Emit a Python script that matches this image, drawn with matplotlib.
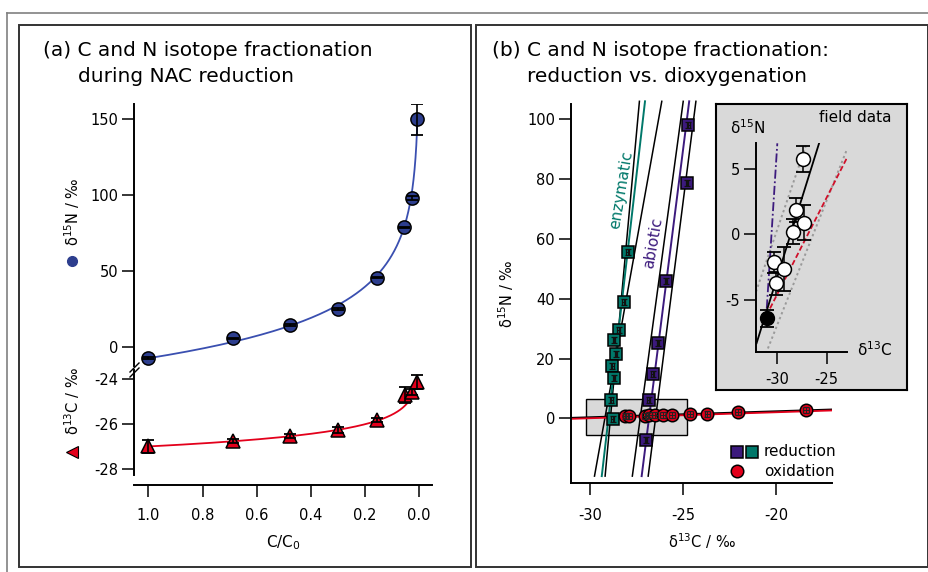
import numpy as np
import matplotlib
matplotlib.use("Agg")
import matplotlib.pyplot as plt
from matplotlib.lines import Line2D
from matplotlib.patches import Rectangle

W, H = 929, 572

# ---- panel (a): fraction remaining vs isotope signature
frac_n = [1.0, 0.686, 0.475, 0.299, 0.157, 0.054, 0.026, 0.006]
d15N_a = [-7.6, 5.5, 14.3, 24.8, 45.5, 78.6, 98.2, 149.8]
d15N_a_err = [0.5, 0.5, 0.5, 0.5, 0.5, 0.5, 1.2, 10.0]
frac_c = [1.0, 0.686, 0.475, 0.299, 0.157, 0.052, 0.025, 0.006]
d13C_a = [-27.0, -26.75, -26.53, -26.27, -25.83, -24.72, -24.58, -24.14]
d13C_a_err = [0.3, 0.1, 0.1, 0.12, 0.1, 0.35, 0.15, 0.3]
# Rayleigh fits (delta0, epsilon, smallest f drawn)
fitN = (-7.6, -28.8, 0.006)
fitC = (-27.0, -0.63, 0.045)

# ---- panel (b): dual isotope plot
enz_C = [-27.98, -28.2, -28.46, -28.71, -28.61, -28.8, -28.71, -28.86, -28.78]
enz_N = [55.5, 39.0, 29.5, 26.2, 21.6, 17.4, 13.5, 6.2, -0.2]
abio_C = [-24.72, -24.8, -25.93, -26.35, -26.64, -26.85, -27.0]
abio_N = [98.2, 78.7, 45.8, 25.3, 14.7, 6.0, -7.1]
ox_C = [-28.1, -27.9, -27.05, -26.85, -26.5, -26.1, -25.6, -24.65, -23.7, -22.05, -18.4]
ox_N = [0.8, 0.85, 0.9, 1.0, 1.0, 1.1, 1.2, 1.4, 1.6, 2.0, 2.7]
# regression lines and slope bounds (d13C ends, d15N ends)
line_N = [-19.3, 106.0]
enz_fit = [-29.37, -27.05]
enz_lo = [-29.19, -27.35]
enz_hi = [-29.76, -26.15]
abio_fit = [-27.23, -24.68]
abio_lo = [-27.73, -25.0]
abio_hi = [-26.88, -24.32]
ox_line_C = [-31.0, -17.0]
ox_line_N = [0.0, 2.8]
box_C = [-30.2, -24.8]
box_N = [-5.6, 6.5]

# ---- inset: field data
fd_C = [-27.43, -28.1, -27.3, -28.38, -30.3, -29.29, -30.13]
fd_N = [5.73, 1.85, 0.89, 0.2, -2.14, -2.65, -3.74]
fd_err = [1.0, 0.9, 1.35, 0.95, 0.8, 1.65, 0.9]
src_C = [-31.0]
src_N = [-6.41]
src_err = [0.65]
ins_black = ([-32.1, -25.77], [-8.3, 6.95])
ins_purple = ([-31.07, -30.0], [-5.65, 6.95])
ins_gray1 = ([-32.16, -27.02], [-4.38, 6.95])
ins_gray2 = ([-31.15, -22.97], [-9.08, 6.44])
ins_red = ([-30.74, -22.97], [-5.65, 5.8])

blue = "#2d3e8e"
blue_line = "#3a4fb0"
red = "#e3001b"
teal = "#00786a"
purple = "#3c1a7d"
gray = "#d9d9d9"


def box(x0, y0, x1, y1):
    return [x0 / W, 1 - y1 / H, (x1 - x0) / W, (y1 - y0) / H]


def fx(x):
    return x / W


def fy(y):
    return 1 - y / H


def style(ax, sides=("left", "bottom")):
    for s in ["left", "right", "top", "bottom"]:
        ax.spines[s].set_visible(s in sides)
        ax.spines[s].set_linewidth(1.4)
    ax.tick_params(direction="out", length=8.5, width=1.1, labelsize=10.5, pad=3)


plt.rcParams["font.family"] = ["DejaVu Sans"]
plt.rcParams["mathtext.fontset"] = "dejavusans"
plt.rcParams["axes.unicode_minus"] = False

fig = plt.figure(figsize=(W / 100, H / 100), dpi=100)

# frames
fig.add_artist(Line2D([fx(7), 1], [fy(13), fy(13)], color="#808080", lw=1.2))
fig.add_artist(Line2D([fx(7), fx(7)], [fy(13), 0], color="#808080", lw=1.2))
fig.add_artist(Rectangle((fx(19), fy(567)), fx(470.5) - fx(19), fy(25) - fy(567),
                         fill=False, ec="#333333", lw=1.4, transform=fig.transFigure))
fig.add_artist(Rectangle((fx(476), fy(567)), fx(928) - fx(476), fy(25) - fy(567),
                         fill=False, ec="#333333", lw=1.4, transform=fig.transFigure))

# ================= panel (a)
axN = fig.add_axes(box(134.3, 104, 432.3, 366.4))
axC = fig.add_axes(box(134.3, 370, 432.3, 475))
xlim_a = (1.052, -0.049)

style(axN, ("left",))
axN.set_xlim(xlim_a)
axN.set_ylim(-13, 160)
axN.set_xticks([])
axN.set_yticks([0, 50, 100, 150])

style(axC)
axC.set_xlim(xlim_a)
axC.set_ylim(-28.27, -23.6)
axC.set_yticks([-28, -26, -24])
axC.set_xticks([1.0, 0.8, 0.6, 0.4, 0.2, 0.0])
axC.set_xticklabels(["1.0", "0.8", "0.6", "0.4", "0.2", "0.0"])
axC.spines["bottom"].set_position(("outward", 7.2))
axC.tick_params(axis="x", pad=8)

d0, eps, fmin = fitN
f = np.geomspace(1.0, fmin, 400)
axN.plot(f, (d0 + 1000) * f ** (eps / 1000) - 1000, color=blue_line, lw=1.3, zorder=2)
axN.plot(frac_n, d15N_a, "o", ms=9.5, mfc=blue, mec="black", mew=1.1, zorder=3)
axN.errorbar(frac_n, d15N_a, yerr=d15N_a_err, fmt="none", ecolor="black",
             elinewidth=1.2, capsize=4.5, capthick=1.3, zorder=4)

d0, eps, fmin = fitC
f = np.geomspace(1.0, fmin, 400)
axC.plot(f, (d0 + 1000) * f ** (eps / 1000) - 1000, color=red, lw=1.3, zorder=2)
axC.plot(frac_c, d13C_a, "^", ms=10, mfc=red, mec="black", mew=1.1, zorder=3)
axC.errorbar(frac_c, d13C_a, yerr=d13C_a_err, fmt="none", ecolor="black",
             elinewidth=1.2, capsize=4.5, capthick=1.3, zorder=4)

# axis break marks
for dy in (0, 5):
    fig.add_artist(Line2D([fx(130), fx(139)], [fy(372 + dy), fy(363 + dy)], color="black", lw=1.0))

fig.text(fx(43), fy(50), "(a) C and N isotope fractionation", fontsize=14.5, va="center")
fig.text(fx(78), fy(76), "during NAC reduction", fontsize=14.5, va="center")
fig.text(fx(72), fy(212), "δ$^{15}$N / ‰", rotation=90, ha="center", va="center", fontsize=10.5)
fig.add_artist(Line2D([fx(72)], [fy(260.5)], marker="o", ms=7, mfc=blue, mec=blue,
                      transform=fig.transFigure))
fig.text(fx(72), fy(401), "δ$^{13}$C / ‰", rotation=90, ha="center", va="center", fontsize=10.5)
fig.add_artist(Line2D([fx(72)], [fy(451.7)], marker="<", ms=8, mfc=red, mec="black", mew=0.8,
                      transform=fig.transFigure))
fig.text(fx(283), fy(543), "C/C$_0$", ha="center", va="center", fontsize=11)

# ================= panel (b)
axB = fig.add_axes(box(571, 104, 832, 483.3))
style(axB)
axB.set_xlim(-31.02, -17.02)
axB.set_ylim(-21.7, 105.1)
axB.set_xticks([-30, -25, -20])
axB.set_yticks([0, 20, 40, 60, 80, 100])
axB.tick_params(axis="x", pad=9.5)
axB.set_xlabel("δ$^{13}$C / ‰", fontsize=10.5, labelpad=6)
axB.set_ylabel("δ$^{15}$N / ‰", fontsize=10.5, labelpad=8)

axB.add_patch(Rectangle((box_C[0], box_N[0]), box_C[1] - box_C[0], box_N[1] - box_N[0],
                        fc=gray, ec="black", lw=1.0, zorder=1))

for xs, c, lw in [(enz_lo, "black", 1.1), (enz_hi, "black", 1.1), (enz_fit, teal, 1.4),
                  (abio_lo, "black", 1.1), (abio_hi, "black", 1.1), (abio_fit, purple, 1.4)]:
    axB.plot(xs, line_N, color=c, lw=lw, zorder=2, clip_on=False)
axB.plot(ox_line_C, [v + 0.15 for v in ox_line_N], color="black", lw=1.5, zorder=2)
axB.plot(ox_line_C, [v - 0.15 for v in ox_line_N], color=red, lw=1.3, zorder=2)

axB.plot(enz_C, enz_N, "s", ms=8, mfc=teal, mec="black", mew=1.1, zorder=3)
axB.errorbar(enz_C, enz_N, yerr=1.0, xerr=0.07, fmt="none", ecolor="#111111",
             elinewidth=0.7, capsize=2.5, capthick=0.9, zorder=4)
axB.plot(abio_C, abio_N, "s", ms=8, mfc=purple, mec="black", mew=1.1, zorder=3)
axB.errorbar(abio_C, abio_N, yerr=1.0, xerr=0.07, fmt="none", ecolor="#111111",
             elinewidth=0.7, capsize=2.5, capthick=0.9, zorder=4)
axB.plot(ox_C, ox_N, "o", ms=9, mfc=red, mec="black", mew=1.1, zorder=3)
axB.errorbar(ox_C, ox_N, yerr=1.0, xerr=0.15, fmt="none", ecolor="#222222",
             elinewidth=0.7, capsize=2.5, capthick=0.9, zorder=4)

fig.text(fx(621.7), fy(190), "enzymatic", color=teal, rotation=80.5, ha="center", va="center",
         fontsize=11, rotation_mode="anchor")
fig.text(fx(653.3), fy(243), "abiotic", color=purple, rotation=80, ha="center", va="center",
         fontsize=11, rotation_mode="anchor")

# legend
fig.add_artist(Line2D([fx(737)], [fy(452)], marker="s", ms=8.5, mfc=purple, mec="black", mew=1.1,
                      transform=fig.transFigure))
fig.add_artist(Line2D([fx(752)], [fy(452)], marker="s", ms=8.5, mfc=teal, mec="black", mew=1.1,
                      transform=fig.transFigure))
fig.add_artist(Line2D([fx(737)], [fy(471)], marker="o", ms=9, mfc=red, mec="black", mew=1.1,
                      transform=fig.transFigure))
fig.text(fx(764), fy(452), "reduction", fontsize=11, va="center")
fig.text(fx(764), fy(471), "oxidation", fontsize=11, va="center")

fig.text(fx(491.7), fy(50), "(b) C and N isotope fractionation:", fontsize=14.5, va="center")
fig.text(fx(526.7), fy(76), "reduction vs. dioxygenation", fontsize=14.5, va="center")

# ================= inset
axIb = fig.add_axes(box(716, 104, 906.7, 390))
axIb.set_facecolor(gray)
axIb.set_xticks([])
axIb.set_yticks([])
for s in axIb.spines.values():
    s.set_linewidth(1.5)

axI = fig.add_axes(box(756, 143.3, 846.7, 352.3))
axI.patch.set_visible(False)
style(axI)
axI.set_xlim(-32.16, -22.97)
axI.set_ylim(-9.0, 6.95)
axI.set_xticks([-30, -25])
axI.set_yticks([-5, 0, 5])
axI.tick_params(axis="x", pad=6)

axI.plot(*ins_gray1, color="#9a9a9a", lw=1.4, ls=(0, (1.2, 1.5)), zorder=2)
axI.plot(*ins_gray2, color="#9a9a9a", lw=1.4, ls=(0, (1.2, 1.5)), zorder=2)
axI.plot(*ins_red, color="#d0102a", lw=1.3, ls=(0, (3, 1.5)), zorder=2)
axI.plot(*ins_purple, color=purple, lw=1.3, ls=(0, (5, 1.5, 1, 1.5)), zorder=2)
axI.plot(*ins_black, color="black", lw=1.3, zorder=2)
axI.errorbar(fd_C, fd_N, yerr=fd_err, fmt="none", ecolor="black", elinewidth=1.1,
             capsize=5, capthick=1.3, zorder=3)
axI.plot(fd_C, fd_N, "o", ms=10, mfc="white", mec="black", mew=1.1, zorder=4)
axI.errorbar(src_C, src_N, yerr=src_err, fmt="none", ecolor="black", elinewidth=1.1,
             capsize=5, capthick=1.3, zorder=3)
axI.plot(src_C, src_N, "o", ms=10, mfc="black", mec="black", zorder=4)

fig.text(fx(730), fy(128), "δ$^{15}$N", fontsize=11, va="center")
fig.text(fx(856.7), fy(350), "δ$^{13}$C", fontsize=11, va="center")
fig.text(fx(891.7), fy(117.7), "field data", fontsize=11, va="center", ha="right")

fig.savefig("out.png", dpi=100)
